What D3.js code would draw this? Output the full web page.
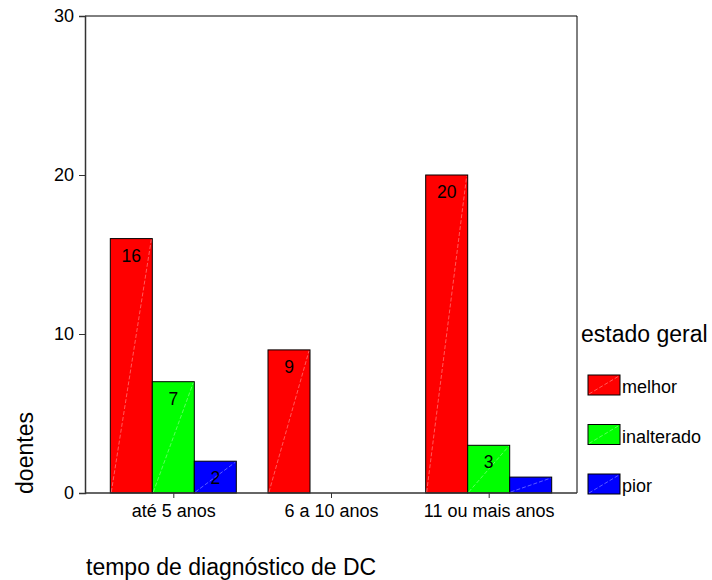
<!DOCTYPE html>
<meta charset="utf-8">
<style>
  body { margin: 0; background: #fff; }
  text { font-family: "Liberation Sans", Arial, sans-serif; }
</style>
<body>
<svg id="chart" width="712" height="580"></svg>
</body>
<script src="https://d3js.org/d3.v7.min.js"></script>
<script>
// data
var categories = ["até 5 anos", "6 a 10 anos", "11 ou mais anos"];
var series = ["melhor", "inalterado", "pior"];
var melhor = [16, 9, 20];
var inalterado = [7, 0, 3];
var pior = [2, 0, 1];
var colors = ["#ff0000", "#00ff00", "#0000ff"];
var yTicks = [0, 10, 20, 30];

var values = [melhor, inalterado, pior];

var svg = d3.select("#chart");
var pLeft = 85, pRight = 577, pTop = 16, pBottom = 493;

var x = d3.scalePoint().domain(categories).range([pLeft, pRight]).padding(0.56);
var y = d3.scaleLinear().domain([0, 30]).range([pBottom, pTop]);
var barW = 42;

// frame (top and right edges)
svg.append("path")
  .attr("d", "M" + pLeft + "," + pTop + "H" + pRight + "V" + pBottom)
  .attr("fill", "none").attr("stroke", "#000").attr("stroke-width", 1);

// bars
var rows = [];
categories.forEach(function(c, i){
  series.forEach(function(s, j){
    rows.push({cat: c, s: j, v: values[j][i]});
  });
});
rows = rows.filter(function(d){ return d.v > 0; });

var g = svg.append("g");
var bars = g.selectAll("g.bar").data(rows).enter().append("g").attr("class", "bar");
bars.append("rect")
  .attr("x", function(d){ return x(d.cat) - 1.5 * barW + d.s * barW; })
  .attr("y", function(d){ return y(d.v); })
  .attr("width", barW)
  .attr("height", function(d){ return y(0) - y(d.v); })
  .attr("fill", function(d){ return colors[d.s]; })
  .attr("stroke", "#000").attr("stroke-width", 1);
bars.append("line")
  .attr("x1", function(d){ return x(d.cat) - 1.5 * barW + d.s * barW + 1; })
  .attr("y1", y(0) - 1)
  .attr("x2", function(d){ return x(d.cat) - 1.5 * barW + (d.s + 1) * barW - 1; })
  .attr("y2", function(d){ return y(d.v) + 1; })
  .attr("stroke", "#fff").attr("stroke-opacity", 0.45).attr("stroke-width", 0.8)
  .attr("stroke-dasharray", "4,2");
bars.filter(function(d){ return d.v >= 2; }).append("text")
  .attr("x", function(d){ return x(d.cat) - barW + d.s * barW; })
  .attr("y", function(d){ return y(d.v) + 23; })
  .attr("text-anchor", "middle")
  .attr("font-size", 17.5)
  .text(function(d){ return d.v; });

// axes
var yAxis = svg.append("g")
  .attr("transform", "translate(" + pLeft + ",0)")
  .call(d3.axisLeft(y).tickValues(yTicks).tickSize(6).tickPadding(5));
var xAxis = svg.append("g")
  .attr("transform", "translate(0," + pBottom + ")")
  .call(d3.axisBottom(x).tickSize(5).tickPadding(6).tickSizeOuter(0));
[yAxis, xAxis].forEach(function(a){
  a.select(".domain").attr("stroke", "#333").attr("stroke-width", 1.5);
  a.selectAll(".tick line").attr("stroke", "#333");
  a.selectAll("text").attr("font-size", 18).attr("fill", "#000")
    .style("font-family", "Liberation Sans, Arial, sans-serif");
});
xAxis.select(".domain").attr("d", "M" + pLeft + ",0H" + pRight);

// axis titles
svg.append("text")
  .attr("transform", "translate(33,453) rotate(-90)")
  .attr("text-anchor", "middle")
  .attr("font-size", 23)
  .text("doentes");
svg.append("text")
  .attr("x", 86).attr("y", 575)
  .attr("font-size", 23)
  .text("tempo de diagnóstico de DC");

// legend
svg.append("text")
  .attr("x", 581).attr("y", 342)
  .attr("font-size", 23)
  .text("estado geral");
var leg = svg.selectAll("g.leg").data(series).enter().append("g")
  .attr("class", "leg")
  .attr("transform", function(d, i){ return "translate(588," + (375 + i * 49.5) + ")"; });
leg.append("rect")
  .attr("width", 32).attr("height", 20)
  .attr("fill", function(d, i){ return colors[i]; })
  .attr("stroke", "#000").attr("stroke-width", 1);
leg.append("line")
  .attr("x1", 1).attr("y1", 19).attr("x2", 31).attr("y2", 1)
  .attr("stroke", "#fff").attr("stroke-opacity", 0.45).attr("stroke-width", 0.8)
  .attr("stroke-dasharray", "4,2");
leg.append("text")
  .attr("x", 34).attr("y", 18)
  .attr("font-size", 18)
  .text(function(d){ return d; });
</script>
